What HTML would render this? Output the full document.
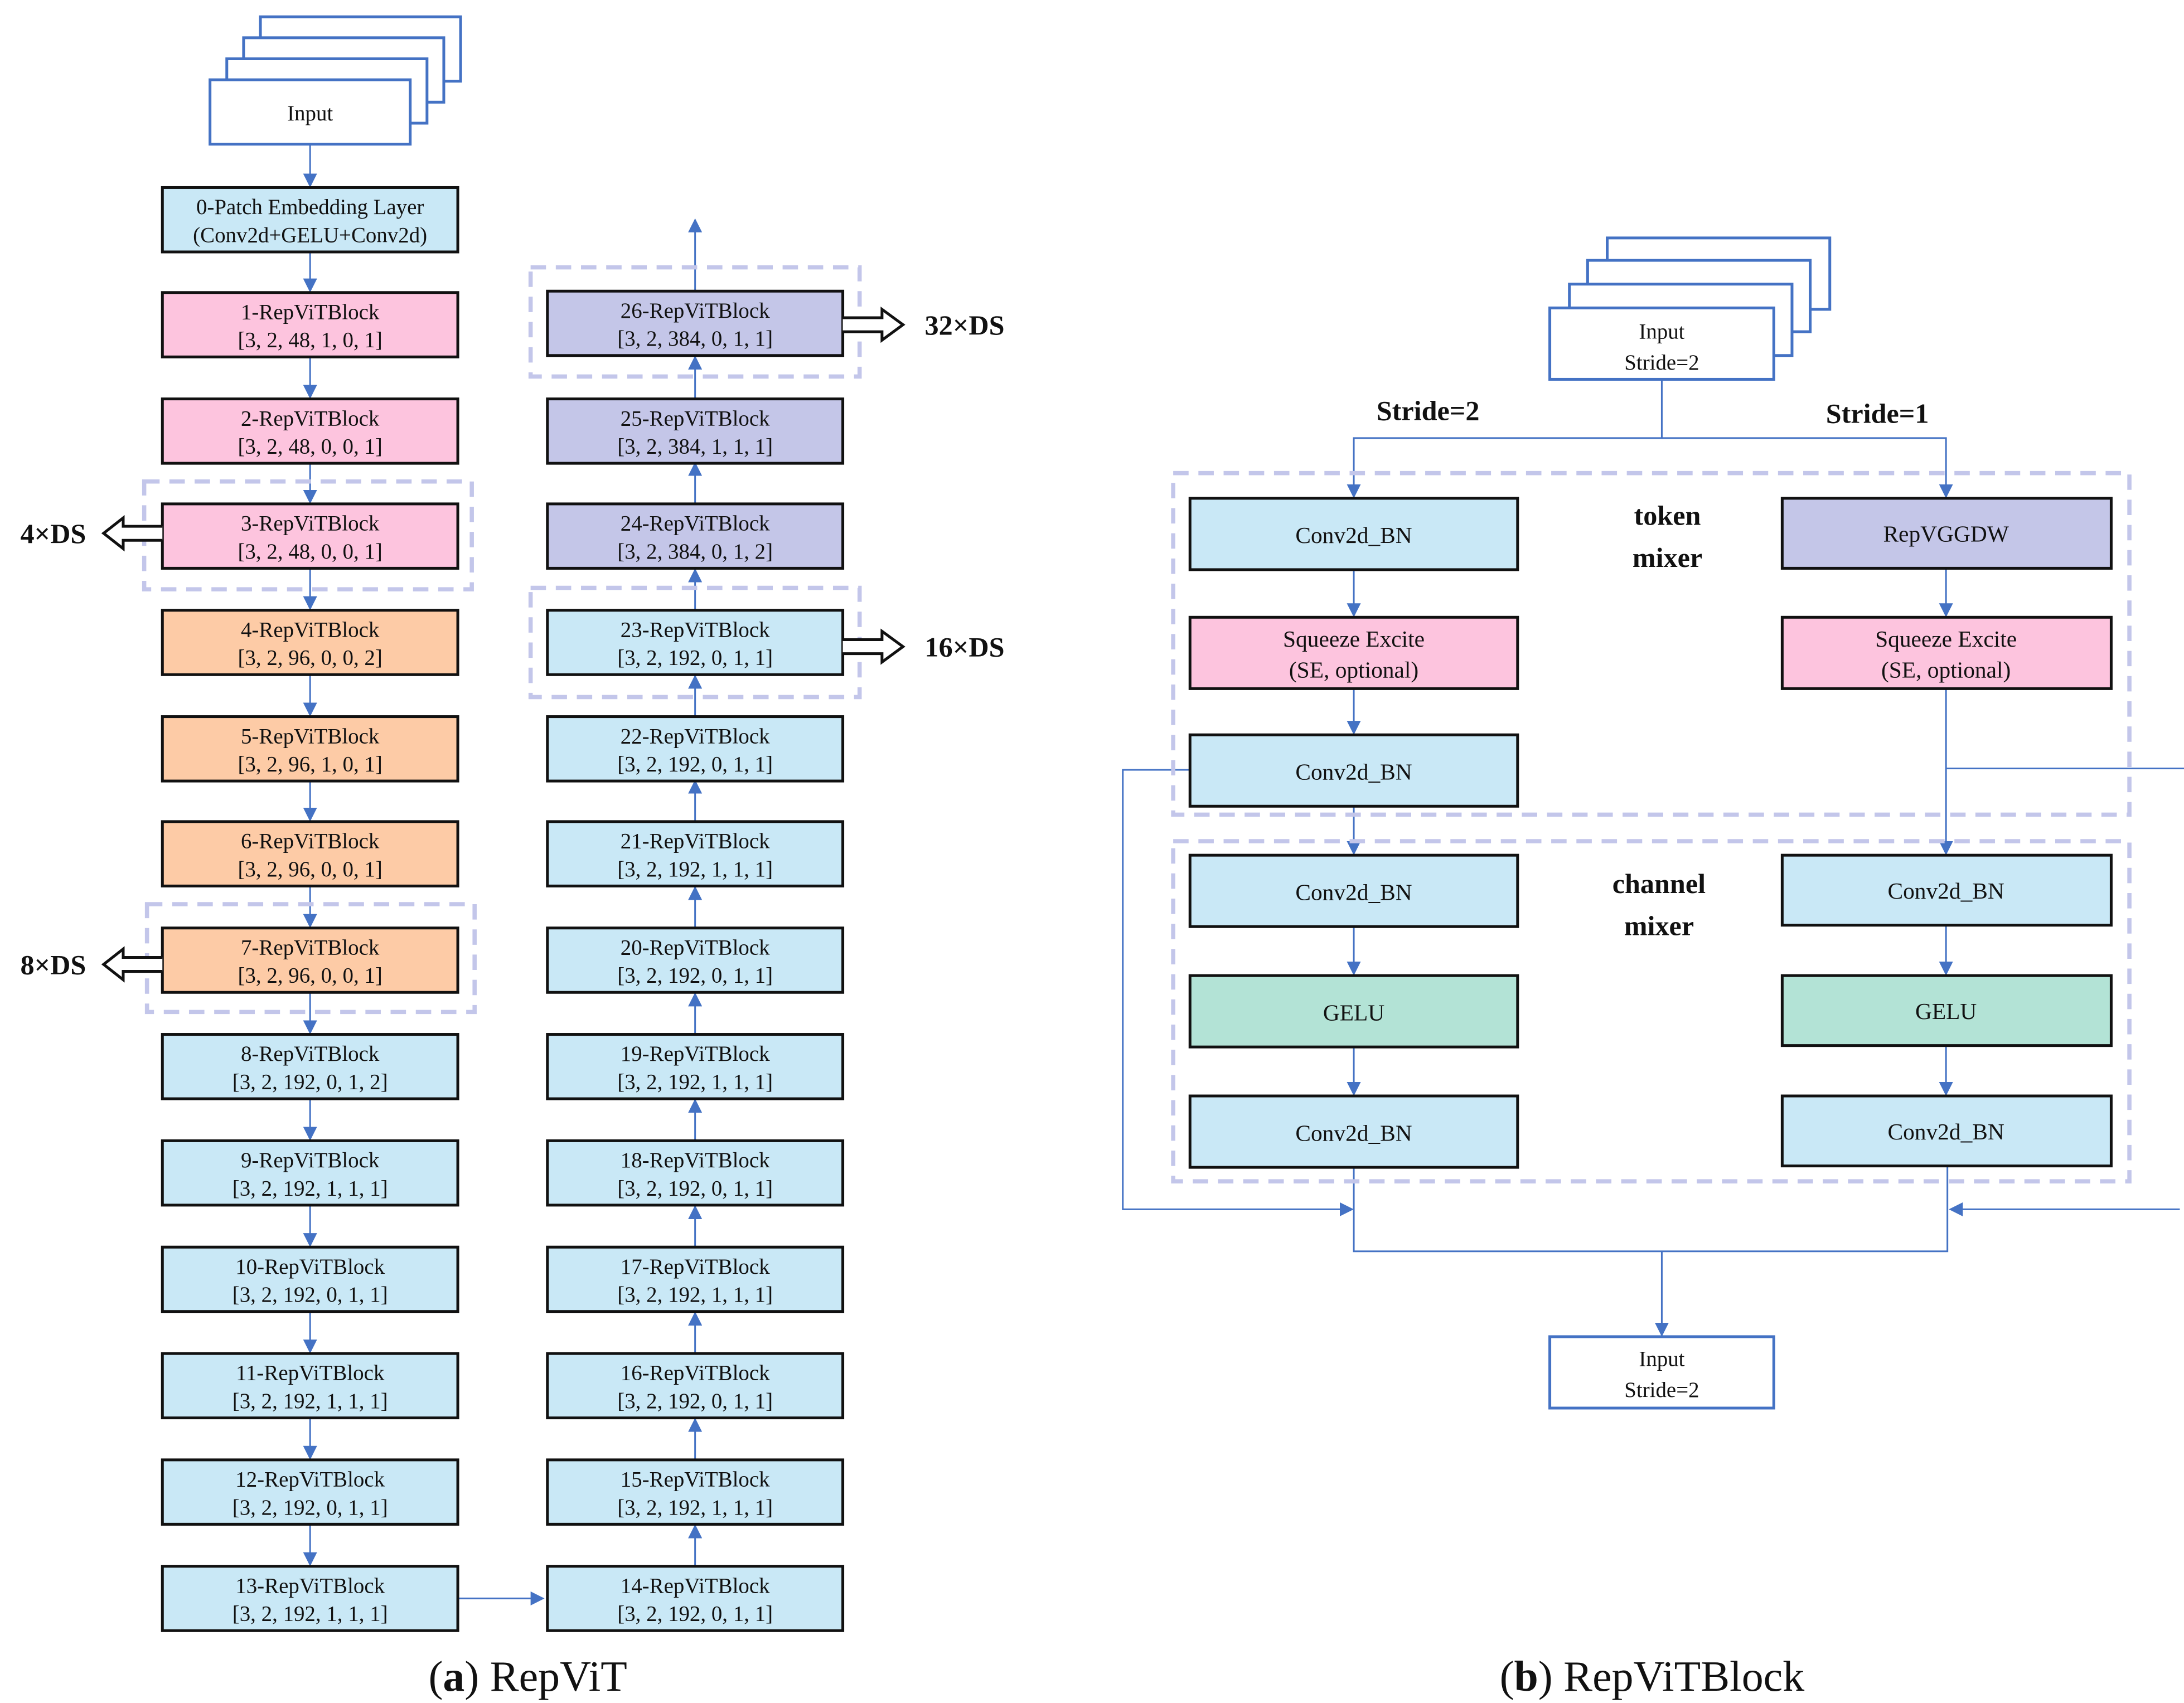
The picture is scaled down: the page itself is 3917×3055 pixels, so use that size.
<!DOCTYPE html>
<html><head><meta charset="utf-8"><style>html,body{margin:0;padding:0;background:#fff}svg{display:block}svg text{font-family:"Liberation Serif",serif}</style></head>
<body>
<svg xmlns="http://www.w3.org/2000/svg" width="3917" height="3055" viewBox="0 0 1560 1216.7" preserveAspectRatio="none">
<defs>
<marker id="a" markerWidth="10" markerHeight="10" refX="9" refY="5" orient="auto" markerUnits="userSpaceOnUse"><path d="M0,0 L10,5 L0,10 z" fill="#4472C4"/></marker>
</defs>
<rect width="1560" height="1217" fill="#fff"/>
<g fill="none" stroke="#4472C4" stroke-width="1.2" marker-end="url(#a)">
<line x1="221.5" y1="103" x2="221.5" y2="133"/>
<line x1="221.5" y1="180" x2="221.5" y2="208"/>
<line x1="221.5" y1="255" x2="221.5" y2="284"/>
<line x1="221.5" y1="331" x2="221.5" y2="359"/>
<line x1="221.5" y1="406" x2="221.5" y2="435"/>
<line x1="221.5" y1="482" x2="221.5" y2="511"/>
<line x1="221.5" y1="558" x2="221.5" y2="586"/>
<line x1="221.5" y1="633" x2="221.5" y2="662"/>
<line x1="221.5" y1="709" x2="221.5" y2="738"/>
<line x1="221.5" y1="785" x2="221.5" y2="814"/>
<line x1="221.5" y1="861" x2="221.5" y2="890"/>
<line x1="221.5" y1="937" x2="221.5" y2="966"/>
<line x1="221.5" y1="1013" x2="221.5" y2="1042"/>
<line x1="221.5" y1="1089" x2="221.5" y2="1118"/>
<line x1="327" y1="1142" x2="388" y2="1142"/>
<line x1="496.5" y1="1119" x2="496.5" y2="1090"/>
<line x1="496.5" y1="1043" x2="496.5" y2="1014"/>
<line x1="496.5" y1="967" x2="496.5" y2="938"/>
<line x1="496.5" y1="891" x2="496.5" y2="862"/>
<line x1="496.5" y1="815" x2="496.5" y2="786"/>
<line x1="496.5" y1="739" x2="496.5" y2="710"/>
<line x1="496.5" y1="663" x2="496.5" y2="634"/>
<line x1="496.5" y1="587" x2="496.5" y2="558"/>
<line x1="496.5" y1="512" x2="496.5" y2="483"/>
<line x1="496.5" y1="436" x2="496.5" y2="407"/>
<line x1="496.5" y1="360" x2="496.5" y2="331"/>
<line x1="496.5" y1="285" x2="496.5" y2="255"/>
<line x1="496.5" y1="208" x2="496.5" y2="157"/>
<polyline points="1187,271 1187,313 967,313 967,355"/>
<polyline points="1187,313 1390,313 1390,355"/>
<line x1="967" y1="407" x2="967" y2="440"/>
<line x1="967" y1="492" x2="967" y2="524"/>
<line x1="967" y1="576" x2="967" y2="610"/>
<line x1="967" y1="662" x2="967" y2="696"/>
<line x1="967" y1="748" x2="967" y2="782"/>
<line x1="1390" y1="406" x2="1390" y2="440"/>
<polyline points="1390,492 1390,610"/>
<line x1="1390" y1="661" x2="1390" y2="696"/>
<line x1="1390" y1="747" x2="1390" y2="782"/>
<polyline points="850,550 802,550 802,864 966,864"/>
<polyline points="1557,864 1393,864"/>
<polyline points="1187,894 1187,954"/>
</g>
<g fill="none" stroke="#4472C4" stroke-width="1.2">
<line x1="1390" y1="549" x2="1560" y2="549"/>
<polyline points="967,834 967,894 1391,894 1391,833"/>
</g>
<g fill="none" stroke="#C3C6EA" stroke-width="3" stroke-dasharray="11,7">
<rect x="103" y="344" width="234" height="77"/>
<rect x="105" y="646" width="234" height="77"/>
<rect x="379" y="420" width="235" height="78"/>
<rect x="379" y="191" width="235" height="78"/>
<rect x="838" y="338" width="683" height="244"/>
<rect x="838" y="601" width="683" height="243"/>
</g>
<g fill="#fff" stroke="#4472C4" stroke-width="2">
<rect x="186" y="12" width="143" height="46"/>
<rect x="174" y="27" width="143" height="46"/>
<rect x="162" y="42" width="143" height="46"/>
<rect x="150" y="57" width="143" height="46"/>
<rect x="1148" y="170" width="159" height="51"/>
<rect x="1134" y="186" width="159" height="51"/>
<rect x="1121" y="203" width="159" height="51"/>
<rect x="1107" y="220" width="160" height="51"/>
<rect x="1107" y="955" width="160" height="51"/>
</g>
<g stroke="#111" stroke-width="2">
<rect x="116" y="134" width="211" height="46" fill="#C9E8F6"/>
<rect x="116" y="209" width="211" height="46" fill="#FDC4DE"/>
<rect x="116" y="285" width="211" height="46" fill="#FDC4DE"/>
<rect x="116" y="360" width="211" height="46" fill="#FDC4DE"/>
<rect x="116" y="436" width="211" height="46" fill="#FDCBA6"/>
<rect x="116" y="512" width="211" height="46" fill="#FDCBA6"/>
<rect x="116" y="587" width="211" height="46" fill="#FDCBA6"/>
<rect x="116" y="663" width="211" height="46" fill="#FDCBA6"/>
<rect x="116" y="739" width="211" height="46" fill="#C9E8F6"/>
<rect x="116" y="815" width="211" height="46" fill="#C9E8F6"/>
<rect x="116" y="891" width="211" height="46" fill="#C9E8F6"/>
<rect x="116" y="967" width="211" height="46" fill="#C9E8F6"/>
<rect x="116" y="1043" width="211" height="46" fill="#C9E8F6"/>
<rect x="116" y="1119" width="211" height="46" fill="#C9E8F6"/>
<rect x="391" y="1119" width="211" height="46" fill="#C9E8F6"/>
<rect x="391" y="1043" width="211" height="46" fill="#C9E8F6"/>
<rect x="391" y="967" width="211" height="46" fill="#C9E8F6"/>
<rect x="391" y="891" width="211" height="46" fill="#C9E8F6"/>
<rect x="391" y="815" width="211" height="46" fill="#C9E8F6"/>
<rect x="391" y="739" width="211" height="46" fill="#C9E8F6"/>
<rect x="391" y="663" width="211" height="46" fill="#C9E8F6"/>
<rect x="391" y="587" width="211" height="46" fill="#C9E8F6"/>
<rect x="391" y="512" width="211" height="46" fill="#C9E8F6"/>
<rect x="391" y="436" width="211" height="46" fill="#C9E8F6"/>
<rect x="391" y="360" width="211" height="46" fill="#C4C6E8"/>
<rect x="391" y="285" width="211" height="46" fill="#C4C6E8"/>
<rect x="391" y="208" width="211" height="46" fill="#C4C6E8"/>
<rect x="850" y="356" width="234" height="51" fill="#C9E8F6"/>
<rect x="850" y="441" width="234" height="51" fill="#FDC4DE"/>
<rect x="850" y="525" width="234" height="51" fill="#C9E8F6"/>
<rect x="850" y="611" width="234" height="51" fill="#C9E8F6"/>
<rect x="850" y="697" width="234" height="51" fill="#B3E3D6"/>
<rect x="850" y="783" width="234" height="51" fill="#C9E8F6"/>
<rect x="1273" y="356" width="235" height="50" fill="#C4C6E8"/>
<rect x="1273" y="441" width="235" height="51" fill="#FDC4DE"/>
<rect x="1273" y="611" width="235" height="50" fill="#C9E8F6"/>
<rect x="1273" y="697" width="235" height="50" fill="#B3E3D6"/>
<rect x="1273" y="783" width="235" height="50" fill="#C9E8F6"/>
</g>
<g fill="#fff" stroke="#111" stroke-width="2">
<path d="M602,227 L630,227 L630,221 L645,232 L630,243 L630,237 L602,237"/>
<path d="M602,457 L630,457 L630,451 L645,462 L630,473 L630,467 L602,467"/>
<path d="M116,376 L88,376 L88,370 L74,381 L88,392 L88,386 L116,386"/>
<path d="M116,684 L88,684 L88,678 L74,689 L88,700 L88,694 L116,694"/>
</g>
<g font-size="15.5" fill="#111" text-anchor="middle">
<text x="221.5" y="86">Input</text>
<text x="221.5" y="153">0-Patch Embedding Layer</text><text x="221.5" y="173">(Conv2d+GELU+Conv2d)</text>
<text x="221.5" y="228">1-RepViTBlock</text><text x="221.5" y="248">[3, 2, 48, 1, 0, 1]</text>
<text x="221.5" y="304">2-RepViTBlock</text><text x="221.5" y="324">[3, 2, 48, 0, 0, 1]</text>
<text x="221.5" y="379">3-RepViTBlock</text><text x="221.5" y="399">[3, 2, 48, 0, 0, 1]</text>
<text x="221.5" y="455">4-RepViTBlock</text><text x="221.5" y="475">[3, 2, 96, 0, 0, 2]</text>
<text x="221.5" y="531">5-RepViTBlock</text><text x="221.5" y="551">[3, 2, 96, 1, 0, 1]</text>
<text x="221.5" y="606">6-RepViTBlock</text><text x="221.5" y="626">[3, 2, 96, 0, 0, 1]</text>
<text x="221.5" y="682">7-RepViTBlock</text><text x="221.5" y="702">[3, 2, 96, 0, 0, 1]</text>
<text x="221.5" y="758">8-RepViTBlock</text><text x="221.5" y="778">[3, 2, 192, 0, 1, 2]</text>
<text x="221.5" y="834">9-RepViTBlock</text><text x="221.5" y="854">[3, 2, 192, 1, 1, 1]</text>
<text x="221.5" y="910">10-RepViTBlock</text><text x="221.5" y="930">[3, 2, 192, 0, 1, 1]</text>
<text x="221.5" y="986">11-RepViTBlock</text><text x="221.5" y="1006">[3, 2, 192, 1, 1, 1]</text>
<text x="221.5" y="1062">12-RepViTBlock</text><text x="221.5" y="1082">[3, 2, 192, 0, 1, 1]</text>
<text x="221.5" y="1138">13-RepViTBlock</text><text x="221.5" y="1158">[3, 2, 192, 1, 1, 1]</text>
<text x="496.5" y="1138">14-RepViTBlock</text><text x="496.5" y="1158">[3, 2, 192, 0, 1, 1]</text>
<text x="496.5" y="1062">15-RepViTBlock</text><text x="496.5" y="1082">[3, 2, 192, 1, 1, 1]</text>
<text x="496.5" y="986">16-RepViTBlock</text><text x="496.5" y="1006">[3, 2, 192, 0, 1, 1]</text>
<text x="496.5" y="910">17-RepViTBlock</text><text x="496.5" y="930">[3, 2, 192, 1, 1, 1]</text>
<text x="496.5" y="834">18-RepViTBlock</text><text x="496.5" y="854">[3, 2, 192, 0, 1, 1]</text>
<text x="496.5" y="758">19-RepViTBlock</text><text x="496.5" y="778">[3, 2, 192, 1, 1, 1]</text>
<text x="496.5" y="682">20-RepViTBlock</text><text x="496.5" y="702">[3, 2, 192, 0, 1, 1]</text>
<text x="496.5" y="606">21-RepViTBlock</text><text x="496.5" y="626">[3, 2, 192, 1, 1, 1]</text>
<text x="496.5" y="531">22-RepViTBlock</text><text x="496.5" y="551">[3, 2, 192, 0, 1, 1]</text>
<text x="496.5" y="455">23-RepViTBlock</text><text x="496.5" y="475">[3, 2, 192, 0, 1, 1]</text>
<text x="496.5" y="379">24-RepViTBlock</text><text x="496.5" y="399">[3, 2, 384, 0, 1, 2]</text>
<text x="496.5" y="304">25-RepViTBlock</text><text x="496.5" y="324">[3, 2, 384, 1, 1, 1]</text>
<text x="496.5" y="227">26-RepViTBlock</text><text x="496.5" y="247">[3, 2, 384, 0, 1, 1]</text>
<text x="1187" y="242">Input</text><text x="1187" y="264">Stride=2</text>
<text x="1187" y="976">Input</text><text x="1187" y="998">Stride=2</text>
</g>
<g font-size="16.5" fill="#111" text-anchor="middle">
<text x="967" y="388">Conv2d_BN</text>
<text x="967" y="462">Squeeze Excite</text><text x="967" y="484">(SE, optional)</text>
<text x="967" y="557">Conv2d_BN</text>
<text x="967" y="643">Conv2d_BN</text>
<text x="967" y="729">GELU</text>
<text x="967" y="815">Conv2d_BN</text>
<text x="1390" y="387">RepVGGDW</text>
<text x="1390" y="462">Squeeze Excite</text><text x="1390" y="484">(SE, optional)</text>
<text x="1390" y="642">Conv2d_BN</text>
<text x="1390" y="728">GELU</text>
<text x="1390" y="814">Conv2d_BN</text>
</g>
<g font-size="20" font-weight="bold" fill="#111" text-anchor="middle">
<text x="689" y="239">32×DS</text>
<text x="689" y="469">16×DS</text>
<text x="38" y="388">4×DS</text>
<text x="38" y="696">8×DS</text>
<text x="1020" y="300">Stride=2</text>
<text x="1341" y="302">Stride=1</text>
<text x="1191" y="375">token</text><text x="1191" y="405">mixer</text>
<text x="1185" y="638">channel</text><text x="1185" y="668">mixer</text>
</g>
<g font-size="31" fill="#111" text-anchor="middle">
<text x="377" y="1208">(<tspan font-weight="bold">a</tspan>) RepViT</text>
<text x="1180" y="1208">(<tspan font-weight="bold">b</tspan>) RepViTBlock</text>
</g>
</svg>
</body></html>
